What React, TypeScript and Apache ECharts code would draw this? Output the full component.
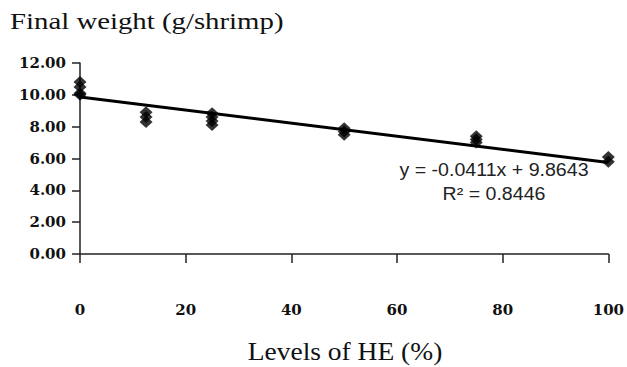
import React, { useEffect, useRef } from "react";
import * as echarts from "echarts";

const levels = [0, 0, 0, 0, 12.5, 12.5, 12.5, 25, 25, 25, 25, 50, 50, 50, 75, 75, 75, 100, 100];
const weights = [10.8, 10.5, 10.0, 10.1, 8.9, 8.6, 8.3, 8.85, 8.6, 8.35, 8.1, 7.9, 7.7, 7.5, 7.4, 7.2, 7.0, 6.1, 5.8];
const slope = -0.0411;
const intercept = 9.8643;
const trendX = [0, 100];
const xTicks = [0, 20, 40, 60, 80, 100];
const yTicks = [0, 2, 4, 6, 8, 10, 12];
const titleText = "Final weight (g/shrimp)";
const xName = "Levels of HE (%)";
const equationText = "y = -0.0411x + 9.8643";
const r2Text = "R² = 0.8446";

export default function App() {
  const ref = useRef<HTMLDivElement>(null);
  useEffect(() => {
    if (!ref.current) return;
    const chart = echarts.init(ref.current, undefined, { renderer: "svg" });
    const points = levels.map((x, i) => [x, weights[i]]);
    const trend = trendX.map((x) => [x, slope * x + intercept]);
    chart.setOption({
      animation: false,
      backgroundColor: "#fff",
      grid: { left: 80, right: 14, top: 63, bottom: 113 },
      xAxis: {
        type: "value",
        min: xTicks[0],
        max: xTicks[xTicks.length - 1],
        interval: 20,
        axisLine: { lineStyle: { color: "#222", width: 1.5 } },
        axisTick: { show: true, length: 9, lineStyle: { color: "#222", width: 1.5 } },
        axisLabel: {
          margin: 48,
          fontFamily: "DejaVu Serif",
          fontWeight: "bold",
          fontSize: 15,
          color: "#111",
        },
        splitLine: { show: false },
      },
      yAxis: {
        type: "value",
        min: yTicks[0],
        max: yTicks[yTicks.length - 1],
        interval: 2,
        axisLine: { show: true, lineStyle: { color: "#222", width: 1.5 } },
        axisTick: { show: true, length: 8, lineStyle: { color: "#222", width: 1.5 } },
        axisLabel: {
          margin: 14,
          fontFamily: "DejaVu Serif",
          fontWeight: "bold",
          fontSize: 15,
          color: "#111",
          formatter: (v: number) => v.toFixed(2),
        },
        splitLine: { show: false },
      },
      series: [
        {
          type: "line",
          data: trend,
          showSymbol: false,
          symbol: "none",
          lineStyle: { color: "#000", width: 3 },
          z: 3,
        },
        {
          type: "scatter",
          data: points,
          symbol: "diamond",
          symbolSize: [13, 12],
          itemStyle: { color: "#000" },
          z: 4,
        },
      ],
      graphic: [
        {
          type: "text",
          x: 10,
          y: 21,
          scaleX: 1.2,
          style: {
            text: titleText,
            fontFamily: "Liberation Serif",
            fontSize: 24,
            fill: "#111",
            textAlign: "left",
            textVerticalAlign: "middle",
          },
        },
        {
          type: "text",
          x: 345,
          y: 352,
          scaleX: 1.1,
          style: {
            text: xName,
            fontFamily: "Liberation Serif",
            fontSize: 25,
            fill: "#111",
            textAlign: "center",
            textVerticalAlign: "middle",
          },
        },
        {
          type: "text",
          x: 494,
          y: 170,
          scaleX: 1.12,
          style: {
            text: equationText,
            fontFamily: "Liberation Sans",
            fontSize: 17.5,
            fill: "#222",
            textAlign: "center",
            textVerticalAlign: "middle",
          },
        },
        {
          type: "text",
          x: 494,
          y: 194,
          scaleX: 1.12,
          style: {
            text: r2Text,
            fontFamily: "Liberation Sans",
            fontSize: 17.5,
            fill: "#222",
            textAlign: "center",
            textVerticalAlign: "middle",
          },
        },
      ],
    });
    return () => chart.dispose();
  }, []);
  return <div ref={ref} style={{ position: "fixed", left: 0, top: 0, width: 627, height: 367 }} />;
}
